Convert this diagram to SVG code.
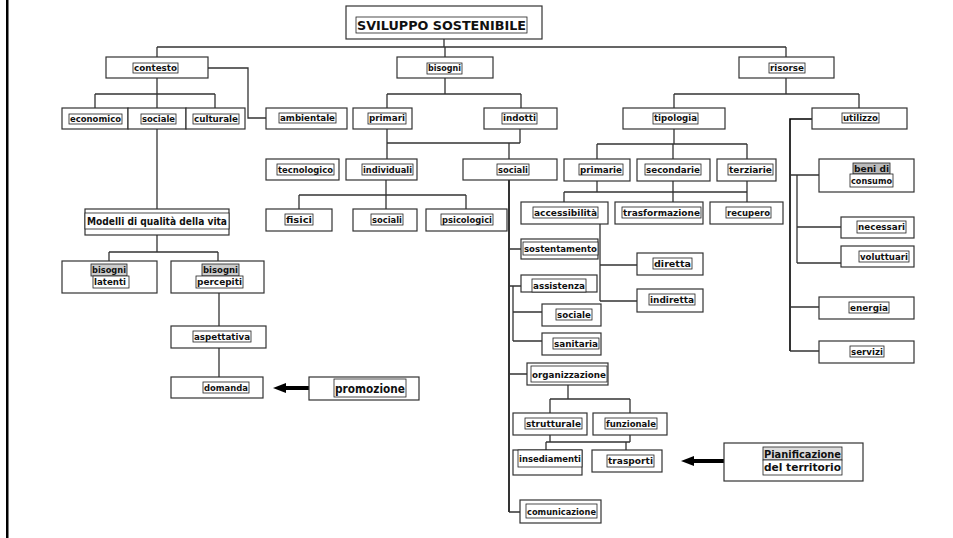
<svg xmlns="http://www.w3.org/2000/svg" width="953" height="538" viewBox="0 0 953 538">
<defs>
<style>
.bx{fill:#fff;stroke:#333;stroke-width:1.2}
.tf{fill:#fff;stroke:#222;stroke-width:0.8}
.t{font-family:"DejaVu Sans","Liberation Sans",sans-serif;font-weight:bold;font-size:9.5px;fill:#111}
.tb{font-size:11.5px}
.c{fill:none;stroke:#333;stroke-width:1.3}
.ck{fill:none;stroke:#000;stroke-width:1.6}
.ar{fill:none;stroke:#000;stroke-width:4}
</style>
<marker id="ah" markerUnits="userSpaceOnUse" markerWidth="14" markerHeight="12" refX="0" refY="6" orient="auto">
<path d="M0,1 L13,6 L0,11 Z" fill="#000"/>
</marker>
</defs>
<rect x="6" y="0" width="2.5" height="538" fill="#000"/>
<g id="connectors">
<path class="c" d="M444,39V47M157,47H786M157,47V57M445,47V57M786,47V57"/>
<path class="c" d="M208,68H248V118H266"/>
<path class="c" d="M157,78V94M95,94H215M95,94V108M157,94V108M215,94V108"/>
<path class="c" d="M157,129V209"/>
<path class="c" d="M157,235V252M109,252H218M109,252V261M218,252V261"/>
<path class="c" d="M219,293V326M219,348V377"/>
<path class="c" d="M445,78V94M387,94H521M387,94V108M521,94V108"/>
<path class="c" d="M387,129V159M387,143H520M520,129V143M509,143V159"/>
<path class="c" d="M386,180V195M299,195H466M299,195V209M386,195V209M466,195V209"/>
<path class="c" d="M786,78V94M674,94H859M674,94V108M859,94V108"/>
<path class="c" d="M674,129V144M597,144H747M597,144V159M673,144V159M747,144V159"/>
<path class="c" d="M597,181V192M564,192H747M564,192V202M673,181V202M747,181V202"/>
<path class="c" d="M600,224V301M600,265H637M600,301H637"/>
<path class="ck" d="M812,119H790V351"/>
<path class="c" d="M790,175H819M797,175V263M797,227H841M797,263H841M790,307H819M790,351H819"/>
<path class="ck" d="M509,180V512"/>
<path class="c" d="M509,249H521M509,286H521M513,286V341M513,312H542M513,341H542M509,374H527M509,512H520"/>
<path class="c" d="M568,385V399M550,399H630M550,399V413M630,399V413"/>
<path class="c" d="M550,435V442M546,442H630M630,435V442M546,442V450M626,442V450"/>
<path class="ar" d="M732,461H694" marker-end="url(#ah)"/>
<path class="ar" d="M325,388H286" marker-end="url(#ah)"/>
</g>
<g id="sviluppo"><rect class="bx" x="346" y="6" width="196" height="33"/><rect class="tf" x="356" y="17" width="171" height="16"/><text class="t" style="font-size:13px" x="357" y="30" textLength="169" lengthAdjust="spacingAndGlyphs">SVILUPPO SOSTENIBILE</text></g>
<g id="contesto"><rect class="bx" x="106" y="57" width="102" height="21"/><rect class="tf" x="133" y="63" width="45" height="10"/><text class="t" x="134" y="71" textLength="43" lengthAdjust="spacingAndGlyphs">contesto</text></g>
<g id="bisogni"><rect class="bx" x="397" y="57" width="96" height="21"/><rect class="tf" x="427" y="63" width="35" height="11"/><text class="t" x="428" y="71" textLength="33" lengthAdjust="spacingAndGlyphs">bisogni</text></g>
<g id="risorse"><rect class="bx" x="739" y="57" width="95" height="21"/><rect class="tf" x="769" y="63" width="36" height="10"/><text class="t" x="770" y="71" textLength="34" lengthAdjust="spacingAndGlyphs">risorse</text></g>
<g id="economico"><rect class="bx" x="62" y="108" width="66" height="21"/><rect class="tf" x="69" y="114" width="53" height="10"/><text class="t" x="70" y="122" textLength="51" lengthAdjust="spacingAndGlyphs">economico</text></g>
<g id="sociale"><rect class="bx" x="128" y="108" width="58" height="21"/><rect class="tf" x="141" y="114" width="35" height="10"/><text class="t" x="142" y="122" textLength="33" lengthAdjust="spacingAndGlyphs">sociale</text></g>
<g id="culturale"><rect class="bx" x="186" y="108" width="59" height="21"/><rect class="tf" x="193" y="114" width="46" height="10"/><text class="t" x="194" y="122" textLength="44" lengthAdjust="spacingAndGlyphs">culturale</text></g>
<g id="ambientale"><rect class="bx" x="266" y="108" width="81" height="21"/><rect class="tf" x="279" y="113" width="57" height="10"/><text class="t" x="280" y="121" textLength="55" lengthAdjust="spacingAndGlyphs">ambientale</text></g>
<g id="primari"><rect class="bx" x="353" y="108" width="59" height="21"/><rect class="tf" x="368" y="113" width="38" height="11"/><text class="t" x="369" y="121" textLength="36" lengthAdjust="spacingAndGlyphs">primari</text></g>
<g id="indotti"><rect class="bx" x="484" y="108" width="73" height="21"/><rect class="tf" x="502" y="113" width="35" height="11"/><text class="t" x="503" y="121" textLength="33" lengthAdjust="spacingAndGlyphs">indotti</text></g>
<g id="tipologia"><rect class="bx" x="623" y="108" width="102" height="21"/><rect class="tf" x="653" y="113" width="45" height="11"/><text class="t" x="654" y="121" textLength="43" lengthAdjust="spacingAndGlyphs">tipologia</text></g>
<g id="utilizzo"><rect class="bx" x="812" y="108" width="95" height="21"/><rect class="tf" x="842" y="113" width="37" height="10"/><text class="t" x="843" y="121" textLength="35" lengthAdjust="spacingAndGlyphs">utilizzo</text></g>
<g id="tecnologico"><rect class="bx" x="266" y="159" width="73" height="21"/><rect class="tf" x="277" y="164" width="57" height="11"/><text class="t" x="278" y="172.5" textLength="55" lengthAdjust="spacingAndGlyphs">tecnologico</text></g>
<g id="individuali"><rect class="bx" x="346" y="159" width="71" height="21"/><rect class="tf" x="362" y="164" width="51" height="11"/><text class="t" x="363" y="172.5" textLength="49" lengthAdjust="spacingAndGlyphs">individuali</text></g>
<g id="sociali-b"><rect class="bx" x="463" y="159" width="94" height="21"/><rect class="tf" x="497" y="164" width="32" height="11"/><text class="t" x="498" y="172.5" textLength="30" lengthAdjust="spacingAndGlyphs">sociali</text></g>
<g id="primarie"><rect class="bx" x="564" y="159" width="66" height="22"/><rect class="tf" x="579" y="164" width="44" height="11"/><text class="t" x="580" y="172.5" textLength="42" lengthAdjust="spacingAndGlyphs">primarie</text></g>
<g id="secondarie"><rect class="bx" x="637" y="159" width="73" height="22"/><rect class="tf" x="645" y="164" width="56" height="11"/><text class="t" x="646" y="172.5" textLength="54" lengthAdjust="spacingAndGlyphs">secondarie</text></g>
<g id="terziarie"><rect class="bx" x="717" y="159" width="59" height="22"/><rect class="tf" x="728" y="164" width="45" height="11"/><text class="t" x="729" y="172.5" textLength="43" lengthAdjust="spacingAndGlyphs">terziarie</text></g>
<g id="beni-di-consumo"><rect class="bx" x="819" y="159" width="95" height="33"/><rect class="tf" x="853" y="163" width="37" height="11" style="fill:#bbb"/><rect class="tf" x="850" y="174" width="43" height="13"/><text class="t" x="854" y="172" textLength="35" lengthAdjust="spacingAndGlyphs">beni di</text><text class="t" x="851" y="184" textLength="41" lengthAdjust="spacingAndGlyphs">consumo</text></g>
<g id="modelli"><rect class="bx" x="85" y="209" width="144" height="26"/><rect class="tf" x="85" y="213" width="144" height="16"/><text class="t" style="font-size:10px" x="87" y="225" textLength="140" lengthAdjust="spacingAndGlyphs">Modelli di qualità della vita</text></g>
<g id="fisici"><rect class="bx" x="266" y="209" width="66" height="22"/><rect class="tf" x="285" y="214" width="28" height="11"/><text class="t" x="286" y="222.5" textLength="26" lengthAdjust="spacingAndGlyphs">fisici</text></g>
<g id="sociali-i"><rect class="bx" x="353" y="209" width="64" height="22"/><rect class="tf" x="371" y="214" width="32" height="11"/><text class="t" x="372" y="222.5" textLength="30" lengthAdjust="spacingAndGlyphs">sociali</text></g>
<g id="psicologici"><rect class="bx" x="426" y="209" width="81" height="22"/><rect class="tf" x="441" y="214" width="52" height="11"/><text class="t" x="442" y="222.5" textLength="50" lengthAdjust="spacingAndGlyphs">psicologici</text></g>
<g id="accessibilita"><rect class="bx" x="521" y="202" width="87" height="22"/><rect class="tf" x="533" y="207" width="65" height="11"/><text class="t" x="534" y="215.5" textLength="63" lengthAdjust="spacingAndGlyphs">accessibilità</text></g>
<g id="trasformazione"><rect class="bx" x="615" y="202" width="88" height="22"/><rect class="tf" x="622" y="207" width="79" height="11"/><text class="t" x="623" y="215.5" textLength="77" lengthAdjust="spacingAndGlyphs">trasformazione</text></g>
<g id="recupero"><rect class="bx" x="710" y="202" width="73" height="22"/><rect class="tf" x="726" y="207" width="45" height="11"/><text class="t" x="727" y="215.5" textLength="43" lengthAdjust="spacingAndGlyphs">recupero</text></g>
<g id="necessari"><rect class="bx" x="841" y="217" width="73" height="21"/><rect class="tf" x="857" y="221" width="49" height="12"/><text class="t" x="858" y="230" textLength="47" lengthAdjust="spacingAndGlyphs">necessari</text></g>
<g id="voluttuari"><rect class="bx" x="841" y="246" width="73" height="21"/><rect class="tf" x="859" y="251" width="50" height="11"/><text class="t" x="860" y="259.5" textLength="48" lengthAdjust="spacingAndGlyphs">voluttuari</text></g>
<g id="sostentamento"><rect class="bx" x="521" y="239" width="77" height="20"/><rect class="tf" x="523" y="242" width="75" height="13"/><text class="t" x="524" y="252" textLength="73" lengthAdjust="spacingAndGlyphs">sostentamento</text></g>
<g id="diretta"><rect class="bx" x="637" y="253" width="66" height="22"/><rect class="tf" x="653" y="258" width="39" height="11"/><text class="t" x="654" y="266.5" textLength="37" lengthAdjust="spacingAndGlyphs">diretta</text></g>
<g id="bisogni-latenti"><rect class="bx" x="62" y="261" width="95" height="32"/><rect class="tf" x="91" y="264" width="36" height="12" style="fill:#ccc"/><rect class="tf" x="93" y="276" width="36" height="12"/><text class="t" x="92" y="273" textLength="34" lengthAdjust="spacingAndGlyphs">bisogni</text><text class="t" x="94" y="285" textLength="32" lengthAdjust="spacingAndGlyphs">latenti</text></g>
<g id="bisogni-percepiti"><rect class="bx" x="171" y="261" width="93" height="32"/><rect class="tf" x="202" y="264" width="37" height="12" style="fill:#ccc"/><rect class="tf" x="196" y="276" width="47" height="12"/><text class="t" x="203" y="273" textLength="35" lengthAdjust="spacingAndGlyphs">bisogni</text><text class="t" x="197" y="285" textLength="45" lengthAdjust="spacingAndGlyphs">percepiti</text></g>
<g id="assistenza"><rect class="bx" x="521" y="275" width="76" height="17"/><rect class="tf" x="532" y="279" width="54" height="13"/><text class="t" x="533" y="289" textLength="52" lengthAdjust="spacingAndGlyphs">assistenza</text></g>
<g id="indiretta"><rect class="bx" x="637" y="289" width="66" height="23"/><rect class="tf" x="649" y="294" width="46" height="11"/><text class="t" x="650" y="302.5" textLength="44" lengthAdjust="spacingAndGlyphs">indiretta</text></g>
<g id="energia"><rect class="bx" x="819" y="297" width="95" height="22"/><rect class="tf" x="849" y="302" width="40" height="11"/><text class="t" x="850" y="310.5" textLength="38" lengthAdjust="spacingAndGlyphs">energia</text></g>
<g id="sociale-a"><rect class="bx" x="542" y="304" width="59" height="22"/><rect class="tf" x="556" y="309" width="36" height="11"/><text class="t" x="557" y="317.5" textLength="34" lengthAdjust="spacingAndGlyphs">sociale</text></g>
<g id="aspettativa"><rect class="bx" x="171" y="326" width="95" height="22"/><rect class="tf" x="193" y="331" width="58" height="11"/><text class="t" x="194" y="339.5" textLength="56" lengthAdjust="spacingAndGlyphs">aspettativa</text></g>
<g id="sanitaria"><rect class="bx" x="542" y="333" width="59" height="22"/><rect class="tf" x="553" y="338" width="46" height="11"/><text class="t" x="554" y="346.5" textLength="44" lengthAdjust="spacingAndGlyphs">sanitaria</text></g>
<g id="servizi"><rect class="bx" x="819" y="341" width="95" height="22"/><rect class="tf" x="850" y="346" width="34" height="11"/><text class="t" x="851" y="354.5" textLength="32" lengthAdjust="spacingAndGlyphs">servizi</text></g>
<g id="organizzazione"><rect class="bx" x="527" y="363" width="81" height="22"/><rect class="tf" x="531" y="366" width="76" height="16"/><text class="t" x="532" y="377.5" textLength="74" lengthAdjust="spacingAndGlyphs">organizzazione</text></g>
<g id="domanda"><rect class="bx" x="171" y="377" width="92" height="21"/><rect class="tf" x="203" y="382" width="46" height="11"/><text class="t" x="204" y="390.5" textLength="44" lengthAdjust="spacingAndGlyphs">domanda</text></g>
<g id="promozione"><rect class="bx" x="309" y="377" width="110" height="23"/><rect class="tf" x="334" y="379" width="72" height="18"/><text class="t tb" x="335" y="392.5" textLength="70" lengthAdjust="spacingAndGlyphs">promozione</text></g>
<g id="strutturale"><rect class="bx" x="513" y="413" width="74" height="22"/><rect class="tf" x="525" y="418" width="57" height="11"/><text class="t" x="526" y="426.5" textLength="55" lengthAdjust="spacingAndGlyphs">strutturale</text></g>
<g id="funzionale"><rect class="bx" x="593" y="413" width="74" height="22"/><rect class="tf" x="605" y="418" width="52" height="11"/><text class="t" x="606" y="426.5" textLength="50" lengthAdjust="spacingAndGlyphs">funzionale</text></g>
<g id="insediamenti"><rect class="bx" x="513" y="450" width="69" height="25"/><rect class="tf" x="518" y="450" width="64" height="17"/><text class="t" x="519" y="462" textLength="62" lengthAdjust="spacingAndGlyphs">insediamenti</text></g>
<g id="trasporti"><rect class="bx" x="592" y="450" width="70" height="22"/><rect class="tf" x="607" y="455" width="47" height="12"/><text class="t" x="608" y="464" textLength="45" lengthAdjust="spacingAndGlyphs">trasporti</text></g>
<g id="pianificazione"><rect class="bx" x="724" y="443" width="139" height="38"/><rect class="tf" x="763" y="447" width="79" height="13" style="fill:#ddd"/><rect class="tf" x="763" y="460" width="79" height="15"/><text class="t" style="font-size:10.5px" x="764" y="457.5" textLength="77" lengthAdjust="spacingAndGlyphs">Pianificazione</text><text class="t" style="font-size:10.5px" x="764" y="471" textLength="77" lengthAdjust="spacingAndGlyphs">del territorio</text></g>
<g id="comunicazione"><rect class="bx" x="520" y="500" width="81" height="23"/><rect class="tf" x="526" y="504" width="71" height="14"/><text class="t" x="527" y="514.5" textLength="69" lengthAdjust="spacingAndGlyphs">comunicazione</text></g>
</svg>
